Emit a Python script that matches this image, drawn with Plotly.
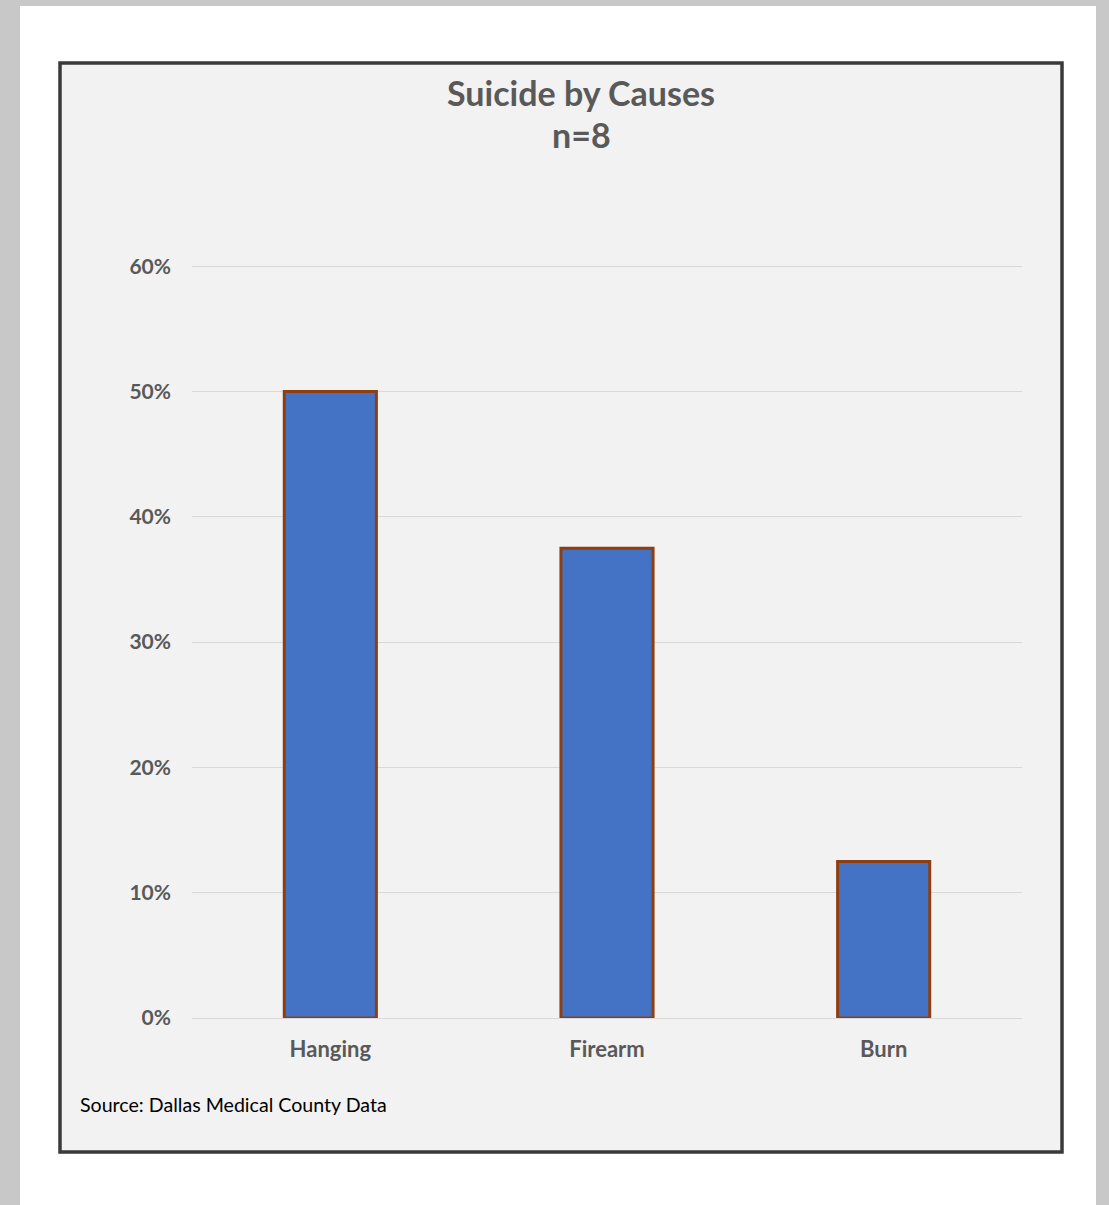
import plotly.graph_objects as go

categories = ["Hanging", "Firearm", "Burn"]
values = [0.50, 0.375, 0.125]
tick_vals = [0, 0.1, 0.2, 0.3, 0.4, 0.5, 0.6]
tick_text = ["0%", "10%", "20%", "30%", "40%", "50%", "60%"]

W, H = 1109, 1205
L, R, T, B = 192, 1022, 260, 1018
YMAX = 0.605

def px(x):
    return (x - L) / (R - L)

def py(y):
    return (B - y) / (B - T)

fig = go.Figure()
fig.add_trace(go.Bar(
    x=categories, y=values,
    marker=dict(color="#4472c4", line=dict(color="#8e3f12", width=3)),
    width=0.333,
    hoverinfo="x+y",
))

shapes = [
    dict(type="rect", xref="paper", yref="paper", x0=px(20), x1=px(1096), y0=py(6), y1=py(1215),
         fillcolor="white", line=dict(width=0), layer="below"),
    dict(type="rect", xref="paper", yref="paper", x0=px(60), x1=px(1062), y0=py(63), y1=py(1152),
         fillcolor="#f2f2f2", line=dict(color="#3a3a3a", width=3.5), layer="below"),
]

annotations = [
    dict(text="<b>Suicide by Causes</b>", xref="paper", yref="paper", x=px(581), y=py(92),
         showarrow=False, font=dict(family="Lato", size=34, color="#595959"), xanchor="center", yanchor="middle"),
    dict(text="<b>n=8</b>", xref="paper", yref="paper", x=px(581), y=py(135),
         showarrow=False, font=dict(family="Lato", size=34, color="#595959"), xanchor="center", yanchor="middle"),
    dict(text="Source: Dallas Medical County Data", xref="paper", yref="paper", x=px(78), y=py(1104),
         showarrow=False, font=dict(family="Lato", size=19.6, color="#000000"), xanchor="left", yanchor="middle"),
]

fig.update_layout(
    width=W, height=H,
    margin=dict(l=L, r=W - R, t=T, b=H - B, pad=0),
    paper_bgcolor="#c8c8c8",
    plot_bgcolor="rgba(0,0,0,0)",
    shapes=shapes,
    annotations=annotations,
    showlegend=False,
    bargap=0.667,
    font=dict(family="Lato"),
)
fig.update_xaxes(
    showgrid=False, showline=False, zeroline=False,
    tickfont=dict(family="Lato", size=22, color="#595959", weight="bold"),
    ticks="", ticklabelstandoff=16,
)
fig.update_yaxes(
    range=[0, YMAX], tickvals=tick_vals, ticktext=tick_text,
    showgrid=True, gridcolor="#d9d9d9", gridwidth=1,
    zeroline=True, zerolinecolor="#d9d9d9", zerolinewidth=1,
    showline=False, ticks="",
    tickfont=dict(family="Lato", size=21, color="#595959", weight="bold"),
    ticklabelstandoff=20,
)

fig.write_html(
    "out.html",
    config={"displayModeBar": False},
    post_script="document.body.style.margin='0';document.body.style.background='#c8c8c8';document.body.style.overflow='hidden';",
)
